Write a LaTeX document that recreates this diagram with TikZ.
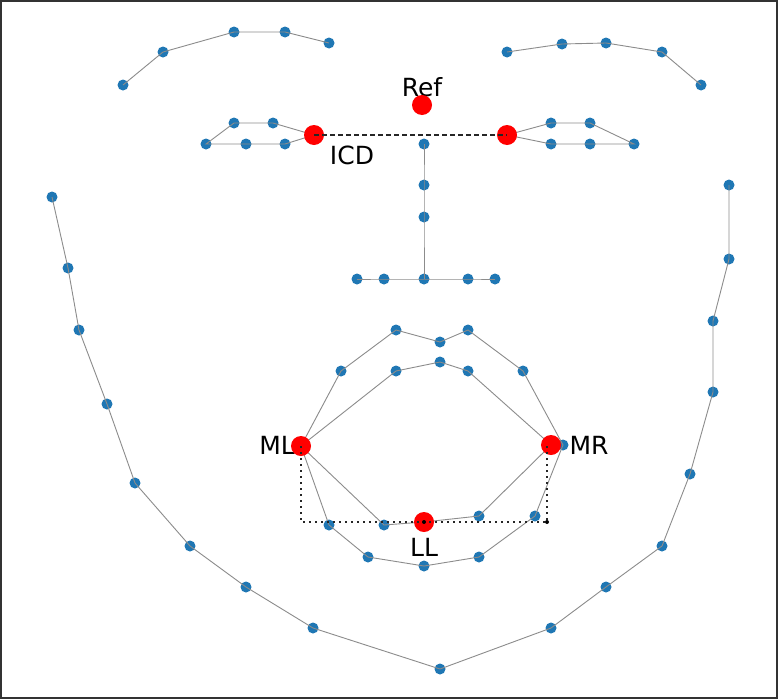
\documentclass[tikz,border=0pt]{standalone}
\usepackage{fontspec}
\setmainfont{DejaVu Sans}
\pgfdeclarelayer{bg}
\pgfdeclarelayer{fg}
\pgfsetlayers{bg,main,fg}
\definecolor{tabblue}{HTML}{1F77B4}
\definecolor{framegray}{HTML}{333333}
\tikzset{
  bdot/.style={circle,fill=tabblue,inner sep=0pt,minimum size=11pt},
  rdot/.style={circle,fill=red,inner sep=0pt,minimum size=20pt},
  kdot/.style={circle,fill=black,inner sep=0pt,minimum size=4pt},
  link/.style={draw=black!45,line width=0.9pt},
  icd/.style={draw=black!85,line width=1.5pt,dash pattern=on 5pt off 3pt},
  guide/.style={draw=black!85,line width=1.6pt,dash pattern=on 1.6pt off 4.4pt},
  lbl/.style={font=\fontsize{25}{27}\selectfont,text=black,inner sep=0pt}
}
\begin{document}
\begin{tikzpicture}[x=1pt,y=-1pt]
\useasboundingbox (0,0) rectangle (778,699);
% red landmarks (front)
\begin{pgfonlayer}{fg}
\node[rdot] (ref) at (422,105) {};
\node[rdot] (e4) at (314,135) {};
\node[rdot] (e7) at (507,135) {};
\node[rdot] (ml) at (301,446) {};
\node[rdot] (mr) at (551,445) {};
\node[rdot] (ll) at (424,522) {};
\end{pgfonlayer}
% blue landmarks (back)
\begin{pgfonlayer}{bg}
\fill[white] (0,0) rectangle (778,699);
\draw[framegray,line width=2.2pt] (1.1,1.1) rectangle (776.9,697.9);
\foreach \n/\x/\y in {j1/52/197,j2/68/268,j3/79/330,j4/107/404,j5/135/483,j6/190/546,j7/246/587,j8/313/628,j9/440/669,j10/551/628,j11/606/587,j12/662/546,j13/690/474,j14/713/392,j15/713/321,j16/729/259,j17/729/185,
b1/123/85,b2/163/52,b3/234/32,b4/285/32,b5/329/43,b6/507/52,b7/562/44,b8/606/43,b9/662/52,b10/701/85,
n1/424/144,n2/424/185,n3/424/217,n4/424/279,n5/357/279,n6/384/279,n8/468/279,n9/495/279,
e1/206/144,e2/234/123,e3/273/123,e5/285/144,e6/246/144,
e8/551/123,e9/590/123,e10/634/144,e11/590/144,e12/551/144,
m2/341/371,m3/396/330,m4/440/342,m5/468/330,m6/523/371,m7/563/445,m8/535/516,m9/479/557,m10/424/566,m11/368/557,m12/329/525,
i2/396/371,i3/440/362,i4/468/371,i6/479/516,i8/384/525}
  {\node[bdot] (\n) at (\x,\y) {};}
\end{pgfonlayer}
% connectors
\draw[link] (j1.center) -- (j2.center) -- (j3.center) -- (j4.center) -- (j5.center) -- (j6.center) -- (j7.center) -- (j8.center) -- (j9.center) -- (j10.center) -- (j11.center) -- (j12.center) -- (j13.center) -- (j14.center) -- (j15.center) -- (j16.center) -- (j17.center);
\draw[link] (b1.center) -- (b2.center) -- (b3.center) -- (b4.center) -- (b5.center);
\draw[link] (b6.center) -- (b7.center) -- (b8.center) -- (b9.center) -- (b10.center);
\draw[link] (n1.center) -- (n2.center) -- (n3.center) -- (n4.center);
\draw[link] (n5.center) -- (n6.center) -- (n4.center) -- (n8.center) -- (n9.center);
\draw[link] (e1.center) -- (e2.center) -- (e3.center) -- (e4.center) -- (e5.center) -- (e6.center) -- cycle;
\draw[link] (e7.center) -- (e8.center) -- (e9.center) -- (e10.center) -- (e11.center) -- (e12.center) -- cycle;
\draw[link] (ml.center) -- (m2.center) -- (m3.center) -- (m4.center) -- (m5.center) -- (m6.center) -- (m7.center) -- (m8.center) -- (m9.center) -- (m10.center) -- (m11.center) -- (m12.center) -- cycle;
\draw[link] (ml.center) -- (i2.center) -- (i3.center) -- (i4.center) -- (mr.center) -- (i6.center) -- (ll.center) -- (i8.center) -- cycle;
% measurement lines
\coordinate (cl) at (301,522);
\coordinate (cr) at (547,522);
\coordinate (mrv) at (547,446);
\begin{pgfonlayer}{fg}
\draw[icd] (e4.center) -- (e7.center);
\draw[guide] (ml.center) -- (cl) -- (cr) -- (mrv);
\node[kdot] (llc) at (ll.center) {};
\node[kdot] (crd) at (cr) {};
\end{pgfonlayer}
% labels
\node[lbl] (tref) at (422,87) {Ref};
\node[lbl] (ticd) at (352,155) {ICD};
\node[lbl] (tml) at (277,445) {ML};
\node[lbl] (tmr) at (589,445) {MR};
\node[lbl] (tll) at (424,547) {LL};
\end{tikzpicture}
\end{document}
